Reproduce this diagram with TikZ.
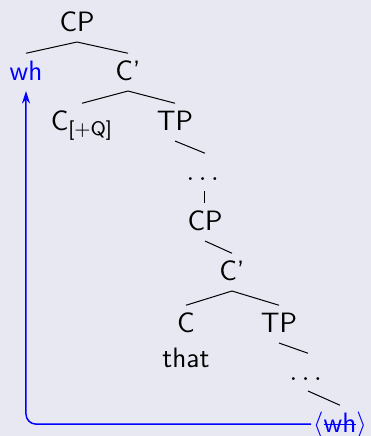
\documentclass[tikz,border=0pt]{standalone}
\usepackage{xcolor}
\usepackage{amsmath}
\usepackage{tikz}
\usetikzlibrary{positioning,arrows.meta}
\definecolor{bgcol}{RGB}{232,232,243}
\newcommand{\strk}[1]{\setbox0\hbox{#1}\rlap{\rule[0.55ex]{\wd0}{0.4pt}}\box0}
\tikzset{cat/.style={anchor=base,inner sep=3pt,text height=7.5pt,text depth=1.2pt}}

\begin{document}
\begin{tikzpicture}[x=0.4pt,y=-0.4pt,font=\sffamily\fontsize{11.2}{13.8}\selectfont]
\fill[bgcol] (0,0) rectangle (371,436);
\useasboundingbox (0,0) rectangle (371,436);
% upper clause
\node[cat] (cp) at (77,31) {CP};
\node[cat,text=blue] (wh) at (26,80) {wh};
\node[cat] (cbar) at (128,80) {C'};
\node[cat] (cq) at (82,130) {C$_{\text{[+Q]}}$};
\node[cat] (tp) at (175,130) {TP};
\node[cat] (dots) at (205,180) {$\dots$};
% embedded clause
\node[cat] (cp2) at (205,230) {CP};
\node[cat] (cbar2) at (232,280) {C'};
\node[cat] (c) at (186,332) {C};
\node[cat] (that) at (186,367) {that};
\node[cat] (tp2) at (279,332) {TP};
\node[cat] (dots2) at (308,380) {$\dots$};
\node[cat,text=blue,inner xsep=0.5pt] (trace) at (340,432) {$\langle$\strk{wh}$\rangle$};
\draw (cp.south) -- (wh.north);
\draw (cp.south) -- (cbar.north);
\draw (cbar.south) -- (cq.north);
\draw (cbar.south) -- (tp.north);
\draw (tp.south) -- (dots.north);
\draw (dots.south) -- (cp2.north);
\draw (cp2.south) -- (cbar2.north);
\draw (cbar2.south) -- (c.north);
\draw (cbar2.south) -- (tp2.north);
\draw (tp2.south) -- (dots2.north);
\draw (dots2.south) -- (trace.north);
% movement
\draw[blue,semithick,rounded corners=4pt,-{Stealth[length=5pt,width=3.2pt]}] (trace.west) -| (wh.south);
\end{tikzpicture}
\end{document}
